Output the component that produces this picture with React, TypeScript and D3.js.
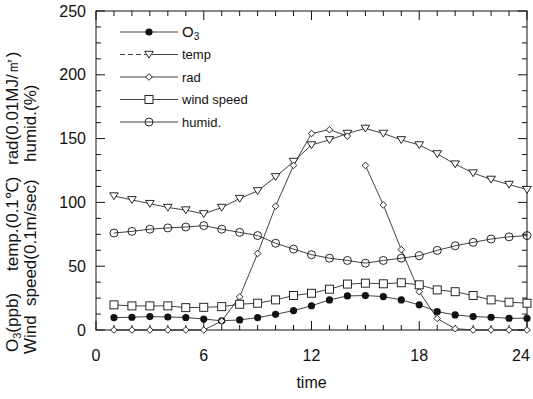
import React from "react";
import * as d3 from "d3";

const hours = [1,2,3,4,5,6,7,8,9,10,11,12,13,14,15,16,17,18,19,20,21,22,23,24];
const o3 = [9.7,10,10.5,10.2,9.8,8.6,7.2,7.9,9.7,12.3,15.2,19,23.6,26.7,27,26.2,23.6,19.7,14.4,11.8,10.5,10,9.2,9.2];
const temp = [105,102,99,96,94,91,96,103,109,120,132,145,149,154,158,154,149,145,138,130,123,118,114,110];
const rad = [0,0,0,0,0,0,7,26,60,97,129,154,157,152,129,98,63,30,9,1,0,0,0,0];
const radBreakAfterHour = 14;
const wind = [19.7,18.9,18.9,18.9,17.5,17.8,18.3,20.2,21,23.6,27,28.8,32,36,36.7,36.2,37,35.4,31.4,30,27,23.6,21.8,21];
const humid = [76,77.3,79,80,80.7,81.8,79,76.5,74,68,63.4,59,56.3,54.5,52.4,54.5,56.3,58.2,62.4,66,68.7,71.3,73,74];
const xTicks = [0,6,12,18,24];
const yTicks = [0,50,100,150,200,250];
const legendNames = ["O3","temp","rad","wind speed","humid."];

const W = 533, H = 399;
const L = 96, R = 527, T = 11, B = 330;
const FONT = "'Liberation Sans', Arial, sans-serif";
const INK = "#111";

function Marker({ kind, x, y }: { kind: string; x: number; y: number }) {
  if (kind === "O3") return <circle cx={x} cy={y} r={3.6} fill={INK} />;
  if (kind === "temp") {
    const s = 4.3;
    return <path d={`M${x - s},${y - s * 0.75}L${x + s},${y - s * 0.75}L${x},${y + s * 0.85}Z`} fill="white" stroke={INK} strokeWidth={0.9} />;
  }
  if (kind === "rad") {
    const s = 3.3;
    return <path d={`M${x},${y - s}L${x + s},${y}L${x},${y + s}L${x - s},${y}Z`} fill="white" stroke={INK} strokeWidth={0.9} />;
  }
  if (kind === "wind speed") return <rect x={x - 4} y={y - 4} width={8} height={8} fill="white" stroke={INK} strokeWidth={0.9} />;
  return <circle cx={x} cy={y} r={4} fill="none" stroke={INK} strokeWidth={0.9} />;
}

export default function App() {
  const x = d3.scaleLinear().domain([0, 24]).range([L, R]);
  const y = d3.scaleLinear().domain([0, 250]).range([B, T]);
  const line = d3.line<[number, number]>().x(d => x(d[0])).y(d => y(d[1]));
  const pts = (vals: number[]) => hours.map((h, i) => [h, vals[i]] as [number, number]);

  const series = [
    { name: "O3", vals: o3 },
    { name: "temp", vals: temp },
    { name: "rad", vals: rad },
    { name: "wind speed", vals: wind },
    { name: "humid.", vals: humid },
  ];

  const minorY = d3.range(0, 250.01, 12.5);
  const minorX = d3.range(0, 24.01, 1);

  const radPts = pts(rad);
  const radA = radPts.filter(p => p[0] <= radBreakAfterHour);
  const radB = radPts.filter(p => p[0] > radBreakAfterHour);

  const lx0 = 120, lx1 = 178, lmx = 149, ly0 = 32, ldy = 22.5;

  return (
    <svg width={W} height={H} style={{ position: "absolute", left: 0, top: 0, background: "white" }} fontFamily={FONT}>
      <rect x={0} y={0} width={W} height={H} fill="white" />
      <rect x={L} y={T} width={R - L} height={B - T} fill="none" stroke={INK} strokeWidth={1} />
      {minorY.map(v => {
        const len = v % 50 === 0 ? 9 : 5;
        return (
          <g key={"yt" + v}>
            <line x1={L} x2={L + len} y1={y(v)} y2={y(v)} stroke={INK} strokeWidth={1} />
            <line x1={R} x2={R - len} y1={y(v)} y2={y(v)} stroke={INK} strokeWidth={1} />
          </g>
        );
      })}
      {minorX.map(v => {
        const len = v % 6 === 0 ? 9 : 5;
        return (
          <g key={"xt" + v}>
            <line x1={x(v)} x2={x(v)} y1={B} y2={B - len} stroke={INK} strokeWidth={1} />
            <line x1={x(v)} x2={x(v)} y1={T} y2={T + len} stroke={INK} strokeWidth={1} />
          </g>
        );
      })}
      {yTicks.map(v => (
        <text key={"yl" + v} x={86} y={y(v)} dy="0.35em" textAnchor="end" fontSize={16} fill={INK}>{v}</text>
      ))}
      {xTicks.map(v => (
        <text key={"xl" + v} x={Math.min(x(v), W - 12)} y={361} textAnchor="middle" fontSize={16} fill={INK}>{v}</text>
      ))}
      <text x={x(12)} y={388} textAnchor="middle" fontSize={16} fill={INK}>time</text>

      <g fontSize={17} fill={INK}>
        <text transform={`translate(18,352) rotate(-90)`}>O<tspan fontSize={11} dy={3}>3</tspan><tspan dy={-3}>(ppb)</tspan></text>
        <text transform={`translate(18,271) rotate(-90)`}>temp.(0.1℃)</text>
        <text transform={`translate(18,165) rotate(-90)`}>rad(0.01MJ/㎡)</text>
        <text transform={`translate(36,354) rotate(-90)`}>Wind</text>
        <text transform={`translate(36,306) rotate(-90)`}>speed(0.1m/sec)</text>
        <text transform={`translate(36,162) rotate(-90)`}>humid.(%)</text>
      </g>

      {series.filter(s => s.name !== "rad").map(s => (
        <path key={"l" + s.name} d={line(pts(s.vals)) || ""} fill="none" stroke={INK} strokeWidth={0.8} />
      ))}
      <path d={line(radA) || ""} fill="none" stroke={INK} strokeWidth={0.8} />
      <path d={line(radB) || ""} fill="none" stroke={INK} strokeWidth={0.8} />

      {series.map(s => (
        <g key={"m" + s.name}>
          {pts(s.vals).map(p => <Marker key={p[0]} kind={s.name} x={x(p[0])} y={y(p[1])} />)}
        </g>
      ))}

      {legendNames.map((n, i) => {
        const ly = ly0 + i * ldy;
        return (
          <g key={"lg" + n}>
            {n === "temp" ? (
              <>
                <line x1={lx0} x2={lmx - 3} y1={ly} y2={ly} stroke={INK} strokeWidth={0.8} strokeDasharray="5,3" />
                <line x1={lmx + 3} x2={lx1} y1={ly} y2={ly} stroke={INK} strokeWidth={0.8} />
              </>
            ) : (
              <line x1={lx0} x2={lx1} y1={ly} y2={ly} stroke={INK} strokeWidth={0.8} />
            )}
            <Marker kind={n} x={lmx} y={ly} />
            {n === "O3" ? (
              <text x={182} y={ly} dy="0.35em" fontSize={15} fill={INK}>O<tspan fontSize={10} dy={3}>3</tspan></text>
            ) : (
              <text x={182} y={ly} dy="0.35em" fontSize={13} fill={INK}>{n}</text>
            )}
          </g>
        );
      })}
    </svg>
  );
}
